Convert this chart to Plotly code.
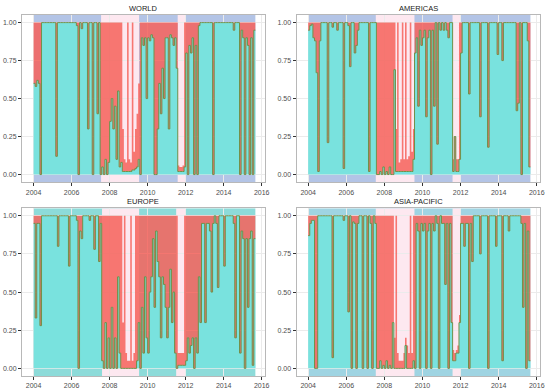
import plotly.graph_objects as go

# ---------------- data (monthly, Jan 2004 .. Aug 2015) ----------------
regions = ["WORLD", "AMERICAS", "EUROPE", "ASIA-PACIFIC"]
start_year = 2004

# probability of the calm regime (olive line / top of turquoise area)
world_p = (
    [0.60, 0.58, 0.62, 0.60, 0.00, 1, 1, 1, 1, 1, 1, 1] +
    [1, 1, 0.12, 1, 1, 1, 1, 1, 1, 1, 1, 1] +
    [1, 1, 1, 0.98, 0.00, 1, 0.96, 1, 1, 1, 0.30, 1] +
    [1, 0.00, 1, 1, 0.40, 1, 0.00, 0.05, 0.00, 0.10, 0.00, 0.08] +
    [0.35, 0.50, 0.30, 0.45, 0.10, 0.55, 0.05, 0.08, 0.02, 0.02, 0.02, 0.02] +
    [0.02, 0.02, 0.03, 0.03, 0.04, 0.05, 0.10, 0.00, 0.90, 0.85, 0.90, 0.50] +
    [0.90, 0.88, 0.92, 0.90, 0.00, 0.00, 0.30, 0.60, 0.40, 0.70, 0.50, 0.90] +
    [0.90, 0.30, 0.92, 0.90, 0.85, 0.90, 0.70, 0.02, 0.02, 0.02, 0.02, 0.05] +
    [0.80, 0.00, 0.85, 0.80, 0.90, 0.00, 0.85, 0.00, 0.98, 1, 1, 1] +
    [1, 1, 1, 1, 1, 0.00, 1, 1, 1, 1, 1, 1] +
    [1, 1, 1, 1, 1, 1, 0.95, 1, 1, 1, 0.00, 0.95] +
    [0.90, 0.00, 0.90, 0.85, 0.00, 0.90, 0.00, 0.95]
)
americas_p = (
    [0.95, 0.98, 0.99, 0.90, 0.88, 0.67, 0.02, 0.88, 1, 1, 1, 1] +
    [0.21, 1, 1, 0.97, 1, 1, 0.95, 1, 1, 1, 0.04, 1] +
    [1, 0.98, 0.71, 1, 1, 0.80, 0.85, 0.95, 1, 1, 1, 1] +
    [1, 1, 0.02, 1, 1, 1, 1, 0.00, 0.00, 0.02, 0.00, 0.05] +
    [0.00, 0.02, 0.00, 0.05, 0.00, 0.00, 0.69, 0.02, 0.02, 0.02, 0.02, 0.02] +
    [0.02, 0.02, 0.02, 0.02, 0.02, 0.02, 0.10, 0.80, 0.90, 0.45, 0.95, 0.85] +
    [0.90, 0.95, 0.38, 0.90, 0.95, 0.00, 0.95, 0.45, 1, 0.20, 1, 0.95] +
    [1, 0.95, 1, 0.95, 0.90, 1, 1, 0.02, 0.25, 0.02, 0.02, 0.10] +
    [0.80, 1, 1, 1, 1, 0.53, 1, 1, 1, 1, 1, 1] +
    [0.38, 1, 1, 1, 1, 0.18, 1, 1, 1, 1, 1, 0.79] +
    [1, 1, 0.75, 1, 1, 1, 1, 1, 1, 1, 1, 0.42] +
    [0.47, 1, 0.00, 1, 1, 1, 0.88, 0.05]
)
europe_p = (
    [0.95, 0.33, 0.95, 0.95, 0.28, 1, 1, 1, 1, 1, 1, 1] +
    [1, 1, 1, 0.80, 1, 1, 1, 1, 1, 1, 0.67, 1] +
    [1, 1, 1, 0.97, 0.00, 0.90, 0.85, 1, 1, 1, 1, 0.97] +
    [1, 1, 0.78, 1, 1, 0.70, 0.95, 0.05, 0.00, 0.30, 0.00, 0.20] +
    [0.00, 0.40, 0.00, 0.20, 0.00, 0.60, 0.10, 0.00, 0.00, 0.00, 0.00, 0.00] +
    [0.00, 0.00, 0.00, 0.00, 0.00, 0.05, 0.30, 0.00, 0.40, 0.10, 0.60, 0.20] +
    [0.10, 0.50, 0.60, 0.85, 0.40, 0.90, 0.70, 0.60, 0.20, 0.60, 0.55, 0.40] +
    [0.20, 0.40, 0.65, 0.30, 0.50, 0.10, 0.00, 0.02, 0.02, 0.02, 0.02, 0.02] +
    [0.05, 0.20, 0.10, 0.15, 0.20, 0.00, 0.20, 0.10, 0.60, 0.30, 0.95, 0.95] +
    [0.30, 0.95, 0.95, 0.90, 0.50, 0.95, 1, 0.95, 0.53, 1, 1, 1] +
    [0.67, 1, 1, 1, 1, 1, 0.95, 0.20, 1, 1, 0.10, 0.90] +
    [0.85, 0.00, 0.85, 0.40, 0.85, 0.90, 0.02, 0.85]
)
asia_p = (
    [0.87, 0.95, 0.97, 0.97, 0.00, 0.00, 1, 1, 1, 1, 1, 1] +
    [1, 1, 1, 0.07, 1, 1, 1, 1, 1, 1, 0.97, 1] +
    [1, 0.37, 1, 0.00, 0.96, 0.95, 0.00, 0.95, 1, 1, 0.00, 1] +
    [1, 0.00, 1, 0.95, 0.00, 1, 0.95, 0.00, 0.00, 0.05, 0.00, 0.02] +
    [0.00, 0.05, 0.00, 0.02, 0.00, 0.30, 0.00, 0.00, 0.00, 0.00, 0.00, 0.00] +
    [0.00, 0.15, 0.00, 0.00, 0.00, 0.00, 0.05, 0.00, 0.95, 0.90, 0.00, 0.95] +
    [0.90, 0.95, 0.00, 0.90, 0.95, 0.00, 0.95, 0.90, 1, 0.95, 0.00, 1] +
    [0.95, 0.95, 0.55, 0.95, 0.00, 0.95, 0.30, 0.05, 0.05, 0.10, 0.10, 0.30] +
    [0.95, 0.95, 0.80, 0.95, 0.95, 0.00, 0.95, 0.70, 1, 1, 1, 1] +
    [0.75, 1, 1, 1, 1, 0.00, 1, 1, 1, 1, 0.80, 1] +
    [1, 1, 0.05, 1, 1, 1, 0.90, 1, 1, 1, 1, 1] +
    [1, 1, 0.95, 0.40, 0.95, 0.00, 0.90, 0.05]
)

# top of the red (turbulent regime) area; 1 unless a white gap shows above it
world_red_top = (
    [1] * 12 * 4 +
    [1, 1, 1, 1, 1, 1, 1, 1, 0.30, 0.10, 0.08, 1] +
    [0.10, 0.08, 1, 0.15, 0.30, 0.40, 0.60, 1, 1, 1, 1, 1] +
    [1] * 12 +
    [1, 1, 1, 1, 1, 1, 1, 0.06, 0.05, 0.05, 0.06, 1] +
    [1] * 12 * 3 +
    [1] * 8
)
americas_red_top = (
    [1] * 12 * 4 +
    [1, 1, 1, 1, 1, 1, 1, 0.30, 1, 0.08, 0.10, 1] +
    [0.10, 1, 0.10, 0.12, 1, 0.15, 0.30, 1, 1, 1, 1, 1] +
    [1] * 12 +
    [1, 1, 1, 1, 1, 1, 1, 0.10, 0.10, 0.10, 0.10, 1] +
    [1] * 12 * 3 +
    [1] * 8
)
europe_red_top = (
    [1] * 12 * 4 +
    [1, 1, 1, 1, 1, 1, 1, 1, 0.30, 1, 0.10, 0.05] +
    [0.05, 1, 0.05, 0.10, 1, 1, 1, 1, 1, 1, 1, 1] +
    [1] * 12 +
    [1, 1, 1, 1, 1, 1, 1, 0.10, 0.10, 0.10, 0.10, 1] +
    [1] * 12 * 3 +
    [1] * 8
)
asia_red_top = (
    [1] * 12 * 4 +
    [1, 1, 1, 1, 1, 1, 0.20, 1, 0.10, 0.05, 0.05, 0.05] +
    [0.10, 0.20, 0.15, 0.10, 1, 0.10, 1, 1, 1, 1, 1, 1] +
    [1] * 12 +
    [1, 1, 1, 1, 1, 1, 1, 0.12, 0.10, 0.12, 0.15, 0.35] +
    [1] * 12 * 3 +
    [1] * 8
)

# turbulent-regime classification periods (background shading), decimal years
world_crisis = [(2007.55, 2009.55), (2011.58, 2011.97)]
americas_crisis = [(2007.55, 2009.58), (2011.58, 2012.0)]
europe_crisis = [(2007.6, 2009.55), (2011.5, 2012.0)]
asia_crisis = [(2007.55, 2009.58), (2011.58, 2012.0)]

y_ticks = [0, 0.25, 0.5, 0.75, 1.0]
y_tick_labels = ["0.00", "0.25", "0.50", "0.75", "1.00"]
x_ticks = [2004, 2006, 2008, 2010, 2012, 2014, 2016]
x_tick_labels = ["2004", "2006", "2008", "2010", "2012", "2014", "2016"]

series = [
    (world_p, world_red_top, world_crisis),
    (americas_p, americas_red_top, americas_crisis),
    (europe_p, europe_red_top, europe_crisis),
    (asia_p, asia_red_top, asia_crisis),
]

# ---------------- styling ----------------
TURQ = "#79e2de"
RED = "rgba(246,98,90,0.85)"
OLIVE = "#72904a"
band_calm = ["#b3c4e6", "#b3c4e6", "#8ddbd9", "#9fd4e2"]
band_crisis = "#fde8f0"
FONT = "Liberation Sans, Arial, sans-serif"

x_domains = [[0.0, 0.469], [0.53, 1.0], [0.0, 0.469], [0.53, 1.0]]
y_domains = [[0.537, 1.0], [0.537, 1.0], [0.0, 0.465], [0.0, 0.465]]

fig = go.Figure()
shapes = []
annotations = []

for k, (name, (p, rtop, crisis)) in enumerate(zip(regions, series)):
    n = len(p)
    t = [start_year + i / 12 for i in range(n)] + [start_year + n / 12]
    pp = list(p) + [p[-1]]
    rr = list(rtop) + [rtop[-1]]
    xa = "x" if k == 0 else f"x{k+1}"
    ya = "y" if k == 0 else f"y{k+1}"

    # turquoise area 0..p
    fig.add_trace(go.Scatter(x=t, y=pp, xaxis=xa, yaxis=ya, mode="lines",
                             line=dict(width=0, shape="hv"), fill="tozeroy",
                             fillcolor=TURQ, hoverinfo="skip", showlegend=False))
    # red area p..red_top
    fig.add_trace(go.Scatter(x=t, y=pp, xaxis=xa, yaxis=ya, mode="lines",
                             line=dict(width=0, shape="hv"), hoverinfo="skip",
                             showlegend=False))
    fig.add_trace(go.Scatter(x=t, y=rr, xaxis=xa, yaxis=ya, mode="lines",
                             line=dict(width=0, shape="hv"), fill="tonexty",
                             fillcolor=RED, hoverinfo="skip", showlegend=False))
    # olive line
    fig.add_trace(go.Scatter(x=t, y=pp, xaxis=xa, yaxis=ya, mode="lines",
                             line=dict(width=1.0, shape="hv", color=OLIVE),
                             hoverinfo="skip", showlegend=False))

    # background regime bands
    shapes.append(dict(type="rect", xref=xa, yref=ya, x0=t[0], x1=t[-1],
                       y0=-0.05, y1=1.05, fillcolor=band_calm[k],
                       line=dict(width=0), layer="below"))
    for (a, b) in crisis:
        shapes.append(dict(type="rect", xref=xa, yref=ya, x0=a, x1=b,
                           y0=-0.05, y1=1.05, fillcolor=band_crisis,
                           line=dict(width=0), layer="below"))

    axis_common = dict(showline=True, linecolor="#b8b8b8", linewidth=1,
                       mirror=True, ticks="outside", ticklen=3,
                       tickcolor="#333333", tickwidth=1, automargin=False,
                       tickfont=dict(size=7, color="#4d4d4d", family=FONT),
                       showgrid=True, gridcolor="#ebebeb", zeroline=False)
    xkey = "xaxis" if k == 0 else f"xaxis{k+1}"
    ykey = "yaxis" if k == 0 else f"yaxis{k+1}"
    fig.layout[xkey] = dict(domain=x_domains[k], anchor=ya,
                            range=[2003.39, 2016.17], tickvals=x_ticks,
                            ticktext=x_tick_labels, **axis_common)
    fig.layout[ykey] = dict(domain=y_domains[k], anchor=xa,
                            range=[-0.05, 1.05], tickvals=y_ticks,
                            ticktext=y_tick_labels, **axis_common)

    annotations.append(dict(text=name, xref="paper", yref="paper",
                            x=sum(x_domains[k]) / 2, y=y_domains[k][1],
                            xanchor="center", yanchor="bottom", yshift=0,
                            showarrow=False,
                            font=dict(size=7.5, color="#1a1a1a", family=FONT)))

fig.update_layout(template="none", width=550, height=390,
                  margin=dict(l=22, r=10, t=15, b=14),
                  paper_bgcolor="white", plot_bgcolor="white",
                  shapes=shapes, annotations=annotations, showlegend=False,
                  hovermode=False)

# remove the default 8px page margin so the figure sits at the window corner
fig.write_html("out.html", config={"displayModeBar": False},
               post_script="document.body.style.margin='0px';")
